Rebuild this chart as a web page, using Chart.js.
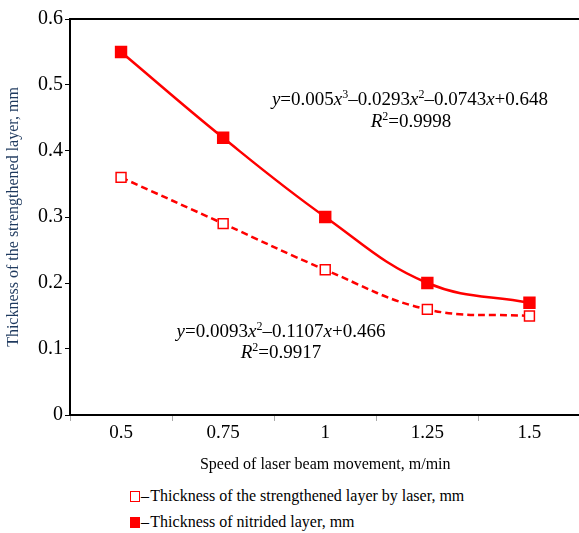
<!DOCTYPE html>
<html lang="en">
  <head>
    <meta charset="UTF-8" />
    <title>Layer thickness vs laser speed</title>
    <style>
      * { margin: 0; padding: 0; }
      body { width: 579px; height: 533px; overflow: hidden; background: #fff; position: relative; }
      #wrap { position: absolute; left: 0; top: 0; width: 590px; height: 478px; }
      .legend { position: absolute; left: 130px; font: 16px 'Liberation Serif', serif; color: #000; white-space: nowrap; }
      .legend .box { display: inline-block; width: 8px; height: 9px; border: 1.5px solid #f00; vertical-align: -1px; margin-right: 1px; }
      .legend .box.fill { background: #f00; }
    </style>
  </head>
  <body>
    <div id="wrap"><canvas id="myChart"></canvas></div>
    <div class="legend" style="top: 487px;"><span class="box"></span>–&#8202;Thickness of the strengthened layer by laser, mm</div>
    <div class="legend" style="top: 513px;"><span class="box fill"></span>–&#8202;Thickness of nitrided layer, mm</div>

    <script src="https://cdn.jsdelivr.net/npm/chart.js@4/dist/chart.umd.min.js"></script>
    <script>
      const speeds = ['0.5', '0.75', '1', '1.25', '1.5']
      const laserLayer = [0.36, 0.29, 0.22, 0.16, 0.15]
      const nitridedLayer = [0.55, 0.42, 0.30, 0.20, 0.17]
      const yTicks = [0, 0.1, 0.2, 0.3, 0.4, 0.5, 0.6]

      const serif = "'Liberation Serif', 'Times New Roman', serif"

      // equation labels: [text, italic, superscript]
      const eqNitrided = [
        ['y', 1], ['=0.005'], ['x', 1], ['3', 0, 1], ['–0.0293'], ['x', 1], ['2', 0, 1],
        ['–0.0743'], ['x', 1], ['+0.648']
      ]
      const r2Nitrided = [['R', 1], ['2', 0, 1], ['=0.9998']]
      const eqLaser = [
        ['y', 1], ['=0.0093'], ['x', 1], ['2', 0, 1], ['–0.1107'], ['x', 1], ['+0.466']
      ]
      const r2Laser = [['R', 1], ['2', 0, 1], ['=0.9917']]

      function richText(ctx, parts, cx, y) {
        const fontFor = (p) => (p[1] ? 'italic ' : '') + (p[2] ? '12px ' : '19px ') + serif
        let w = 0
        parts.forEach((p) => { ctx.font = fontFor(p); w += ctx.measureText(p[0]).width })
        let x = cx - w / 2
        ctx.fillStyle = '#000'
        ctx.textBaseline = 'alphabetic'
        ctx.textAlign = 'left'
        parts.forEach((p) => {
          ctx.font = fontFor(p)
          ctx.fillText(p[0], x, p[2] ? y - 7 : y)
          x += ctx.measureText(p[0]).width
        })
      }

      const extras = {
        id: 'extras',
        afterDraw(chart) {
          const { ctx, chartArea: a } = chart
          ctx.save()
          ctx.strokeStyle = '#000'
          ctx.lineWidth = 2
          ctx.beginPath()
          ctx.moveTo(a.left, a.top)
          ctx.lineTo(a.right, a.top)
          ctx.lineTo(a.right, a.bottom)
          ctx.stroke()
          richText(ctx, eqNitrided, 410, 105)
          richText(ctx, r2Nitrided, 411, 127)
          richText(ctx, eqLaser, 281, 337)
          richText(ctx, r2Laser, 281, 358)
          ctx.restore()
        }
      }

      const ctx = document.getElementById('myChart')

      new Chart(ctx, {
        type: 'line',
        data: {
          labels: speeds,
          datasets: [
            {
              label: 'Thickness of the strengthened layer by laser, mm',
              data: laserLayer,
              borderColor: '#f00',
              borderWidth: 2.5,
              borderDash: [7, 4],
              tension: 0.4,
              pointStyle: 'rect',
              pointRadius: 7,
              pointBorderWidth: 1.5,
              pointBackgroundColor: '#fff',
              pointBorderColor: '#f00'
            },
            {
              label: 'Thickness of nitrided layer, mm',
              data: nitridedLayer,
              borderColor: '#f00',
              borderWidth: 2.5,
              tension: 0.4,
              pointStyle: 'rect',
              pointRadius: 7,
              pointBackgroundColor: '#f00',
              pointBorderColor: '#f00'
            }
          ]
        },
        options: {
          responsive: true,
          maintainAspectRatio: false,
          animation: false,
          layout: { padding: { top: 19, right: 0, left: 0, bottom: 0 } },
          plugins: { legend: { display: false }, tooltip: { enabled: false } },
          scales: {
            x: {
              offset: true,
              grid: { offset: true, drawOnChartArea: false, tickLength: 6, color: '#aaa' },
              border: { color: '#000', width: 2 },
              ticks: { color: '#000', font: { family: serif, size: 19 }, padding: 1 },
              title: {
                display: true,
                text: 'Speed of laser beam movement, m/min',
                color: '#000',
                font: { family: serif, size: 16 },
                padding: { top: 10 }
              },
              afterFit(scale) { scale.height = 63 }
            },
            y: {
              min: 0,
              max: 0.6,
              afterBuildTicks(scale) { scale.ticks = yTicks.map((v) => ({ value: v })) },
              grid: { drawOnChartArea: false, tickLength: 5, color: '#000' },
              border: { color: '#000', width: 2 },
              ticks: { color: '#000', font: { family: serif, size: 20 }, padding: 2 },
              title: {
                display: true,
                text: 'Thickness of the strengthened layer, mm',
                color: '#1f3a5f',
                font: { family: serif, size: 16 },
                padding: { bottom: 8 }
              },
              afterFit(scale) { scale.width = 70 }
            }
          }
        },
        plugins: [extras]
      })
    </script>
  </body>
</html>
